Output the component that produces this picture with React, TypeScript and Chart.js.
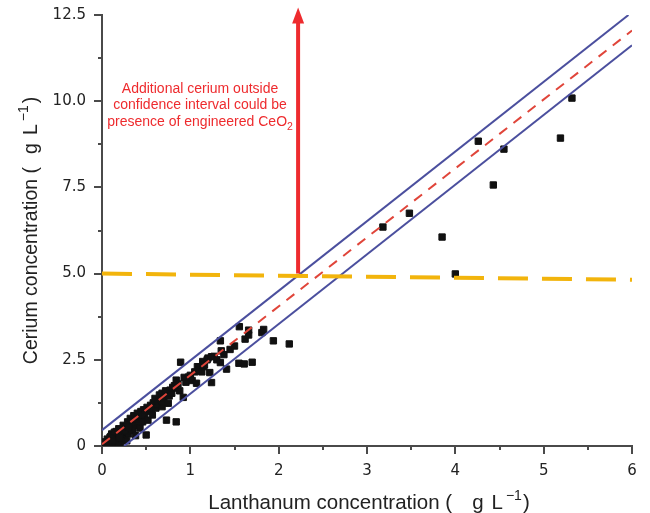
import { useEffect, useRef } from "react";
import { Chart, registerables } from "chart.js";

Chart.register(...registerables);

// Scatter samples: lanthanum (x) vs cerium (y), g/L
const laX = [
  0.02, 0.04, 0.05, 0.06, 0.08, 0.09, 0.1, 0.11, 0.12, 0.13, 0.14, 0.15, 0.16, 0.17, 0.18, 0.19,
  0.2, 0.21, 0.22, 0.23, 0.24, 0.25, 0.26, 0.27, 0.28, 0.29, 0.3, 0.31, 0.32, 0.33, 0.34, 0.35,
  0.36, 0.37, 0.38, 0.39, 0.4, 0.41, 0.42, 0.43, 0.44, 0.45, 0.46, 0.47, 0.48, 0.49, 0.5, 0.51,
  0.52, 0.53, 0.55, 0.56, 0.57, 0.58, 0.6, 0.61, 0.62, 0.64, 0.65, 0.66, 0.68, 0.68, 0.69, 0.7,
  0.72, 0.73, 0.75, 0.76, 0.77, 0.79, 0.8, 0.82, 0.83, 0.84, 0.84, 0.86, 0.88, 0.89, 0.92, 0.93,
  0.95, 0.98, 1.0, 1.02, 1.05, 1.07, 1.08, 1.1, 1.13, 1.14, 1.15, 1.16, 1.19, 1.2, 1.22, 1.24,
  1.24, 1.27, 1.3, 1.34, 1.34, 1.35, 1.38, 1.41, 1.45, 1.5, 1.55, 1.555, 1.61, 1.62, 1.66, 1.66,
  1.7, 1.81, 1.83, 1.94, 2.12, 3.18, 3.48, 3.85, 4.0, 4.26, 4.43, 4.55, 5.19, 5.32,
  0.03, 0.07, 0.1, 0.14, 0.18, 0.22, 0.26, 0.3, 0.12, 0.2, 0.28,
];
const ceY = [
  0.05, 0.12, 0.02, 0.2, 0.08, 0.25, 0.15, 0.35, 0.05, 0.22, 0.3, 0.12, 0.42, 0.28, 0.18, 0.5,
  0.35, 0.08, 0.45, 0.3, 0.6, 0.4, 0.2, 0.55, 0.48, 0.7, 0.35, 0.62, 0.8, 0.5, 0.72, 0.45,
  0.88, 0.66, 0.3, 0.78, 0.95, 0.6, 0.85, 0.52, 1.0, 0.85, 0.7, 1.05, 0.9, 1.04, 0.32, 1.12,
  0.75, 1.0, 1.18, 1.04, 0.9, 1.25, 1.38, 1.1, 1.2, 1.3, 1.48, 1.33, 1.53, 1.14, 1.28, 1.4,
  1.6, 0.75, 1.24, 1.45, 1.62, 1.53, 1.7, 1.75, 1.68, 0.7, 1.91, 1.8, 1.6, 2.43, 1.41, 1.99,
  1.85, 2.0, 2.05, 1.9, 2.15, 1.82, 2.3, 2.2, 2.15, 2.45, 2.3, 2.35, 2.5, 2.55, 2.13, 2.59,
  1.84, 2.6, 2.5, 2.42, 3.05, 2.76, 2.65, 2.23, 2.8, 2.9, 2.4, 3.46, 2.38, 3.1, 3.36, 3.22,
  2.43, 3.29, 3.38, 3.05, 2.96, 6.35, 6.75, 6.06, 4.99, 8.84, 7.57, 8.61, 8.93, 10.09,
  0.1, 0.02, 0.28, 0.4, 0.1, 0.2, 0.45, 0.55, 0.15, 0.25, 0.15,
];

// Regression line and confidence bounds
const fitX = [0, 6];
const fitY = [0.05, 12.05];
const upperX = [0, 5.96];
const upperY = [0.46, 12.5];
const lowerX = [0.25, 6];
const lowerY = [0, 11.62];

// Threshold (yellow dashed)
const thresholdX = [0, 6];
const thresholdY = [5.0, 4.82];

// Arrow (x, from, to)
const arrowX = 2.22;
const arrowFromY = 5.0;
const arrowToY = 12.72;

// Note
const noteX = 1.11;
const noteY = 10.35;
const noteLines = ["Additional cerium outside", "confidence interval could be", "presence of engineered CeO"];
const noteSubscript = "2";

// Ticks
const xMajorTicks = [0, 1, 2, 3, 4, 5, 6];
const xMinorTicks = [0.5, 1.5, 2.5, 3.5, 4.5, 5.5];
const yMajorTicks = [0, 2.5, 5.0, 7.5, 10.0, 12.5];
const yMinorTicks = [1.25, 3.75, 6.25, 8.75, 11.25];

// Axis titles: lead text, unit, unit letter, superscript exponent
const xTitleLead = "Lanthanum concentration (";
const yTitleLead = "Cerium concentration (";
const unitG = "g";
const unitL = "L";
const unitExp = "\u22121";

const pts = (xs: number[], ys: number[]) => xs.map((x, i) => ({ x, y: ys[i] }));

const AXIS_COLOR = "#4a4a4a";
const TEXT_COLOR = "#222222";
const NOTE_RED = "#ee2b2e";
const SANS = "'Liberation Sans', Arial, sans-serif";

type Piece = { text?: string; size?: number; dy?: number; gap?: number };

function drawPieces(ctx: CanvasRenderingContext2D, pieces: Piece[], cx: number, baseline: number) {
  let total = 0;
  const widths = pieces.map((p) => {
    if (p.gap !== undefined) return p.gap;
    ctx.font = `${p.size}px ${SANS}`;
    return ctx.measureText(p.text || "").width;
  });
  widths.forEach((w) => (total += w));
  let x = cx - total / 2;
  ctx.textAlign = "left";
  ctx.textBaseline = "alphabetic";
  pieces.forEach((p, i) => {
    if (p.gap === undefined) {
      ctx.font = `${p.size}px ${SANS}`;
      ctx.fillText(p.text || "", x, baseline + (p.dy || 0));
    }
    x += widths[i];
  });
}

const overlayPlugin = {
  id: "overlay",
  afterDraw(chart: any) {
    const { ctx, scales } = chart;
    const xs = scales.x;
    const ys = scales.y;
    const area = chart.chartArea;
    ctx.save();
    // tick marks
    ctx.strokeStyle = AXIS_COLOR;
    ctx.lineWidth = 2;
    const drawX = (v: number, len: number) => {
      const px = Math.round(xs.getPixelForValue(v));
      ctx.beginPath();
      ctx.moveTo(px, area.bottom);
      ctx.lineTo(px, area.bottom + len);
      ctx.stroke();
    };
    const drawY = (v: number, len: number) => {
      const py = Math.round(ys.getPixelForValue(v));
      ctx.beginPath();
      ctx.moveTo(area.left, py);
      ctx.lineTo(area.left - len, py);
      ctx.stroke();
    };
    xMajorTicks.forEach((v) => drawX(v, 8));
    xMinorTicks.forEach((v) => drawX(v, 4));
    yMajorTicks.forEach((v) => drawY(v, 8));
    yMinorTicks.forEach((v) => drawY(v, 4));

    // axis titles
    ctx.fillStyle = TEXT_COLOR;
    const xPieces: Piece[] = [
      { text: xTitleLead, size: 20.5 },
      { gap: 20 },
      { text: unitG, size: 20.5 },
      { gap: 8 },
      { text: unitL, size: 20.5 },
      { gap: 3 },
      { text: unitExp, size: 14, dy: -9 },
      { gap: 1 },
      { text: ")", size: 20.5 },
    ];
    drawPieces(ctx, xPieces, (area.left + area.right) / 2 + 2, 509);
    const yPieces: Piece[] = [
      { text: yTitleLead, size: 19.5 },
      { gap: 13 },
      { text: unitG, size: 19.5 },
      { gap: 8 },
      { text: unitL, size: 19.5 },
      { gap: 3 },
      { text: unitExp, size: 14, dy: -9 },
      { gap: 2 },
      { text: ")", size: 19.5 },
    ];
    ctx.save();
    ctx.translate(36.5, (area.top + area.bottom) / 2);
    ctx.rotate(-Math.PI / 2);
    drawPieces(ctx, yPieces, 0, 0);
    ctx.restore();

    // arrow
    const ax = xs.getPixelForValue(arrowX);
    const ay0 = ys.getPixelForValue(arrowFromY);
    const ay1 = ys.getPixelForValue(arrowToY);
    ctx.strokeStyle = NOTE_RED;
    ctx.fillStyle = NOTE_RED;
    ctx.lineWidth = 4;
    ctx.beginPath();
    ctx.moveTo(ax, ay0);
    ctx.lineTo(ax, ay1 + 12);
    ctx.stroke();
    ctx.beginPath();
    ctx.moveTo(ax, ay1);
    ctx.lineTo(ax - 6, ay1 + 16);
    ctx.lineTo(ax + 6, ay1 + 16);
    ctx.closePath();
    ctx.fill();

    // note text
    const cx = xs.getPixelForValue(noteX);
    const cy = ys.getPixelForValue(noteY);
    ctx.textBaseline = "middle";
    ctx.textAlign = "left";
    noteLines.forEach((line, i) => {
      const y = cy + i * 16.5;
      ctx.font = `14px ${SANS}`;
      const w = ctx.measureText(line).width;
      let sw = 0;
      if (i === noteLines.length - 1) {
        ctx.font = `10.5px ${SANS}`;
        sw = ctx.measureText(noteSubscript).width;
      }
      const start = cx - (w + sw) / 2;
      ctx.font = `14px ${SANS}`;
      ctx.fillText(line, start, y);
      if (sw) {
        ctx.font = `10.5px ${SANS}`;
        ctx.fillText(noteSubscript, start + w, y + 5);
      }
    });
    ctx.restore();
  },
};

export default function App() {
  const ref = useRef<HTMLCanvasElement | null>(null);
  useEffect(() => {
    if (!ref.current) return;
    const lineDs = (xs: number[], ys: number[], color: string, width: number, dash: number[], order: number) => ({
      data: pts(xs, ys),
      showLine: true,
      borderColor: color,
      borderWidth: width,
      borderDash: dash,
      pointRadius: 0,
      fill: false,
      order,
    });
    const chart = new Chart(ref.current, {
      type: "scatter",
      data: {
        datasets: [
          {
            data: pts(laX, ceY),
            pointStyle: "rect",
            pointRadius: 4.5,
            backgroundColor: "#111111",
            borderColor: "#111111",
            borderWidth: 1,
            order: 10,
          } as any,
          lineDs(upperX, upperY, "#4b4f9e", 2, [], 3),
          lineDs(lowerX, lowerY, "#4b4f9e", 2, [], 3),
          lineDs(fitX, fitY, "#e0453a", 2, [10, 8], 2),
          lineDs(thresholdX, thresholdY, "#f2b40c", 4, [30, 14], 1),
        ],
      },
      options: {
        animation: false,
        responsive: false,
        events: [],
        layout: { padding: { top: 15, right: 18, left: 0, bottom: 0 } },
        plugins: { legend: { display: false }, tooltip: { enabled: false } },
        scales: {
          x: {
            type: "linear",
            min: 0,
            max: 6,
            afterFit: (s: any) => {
              s.height = 67;
              s.paddingLeft = 0;
              s.paddingRight = 0;
            },
            grid: { display: false, drawTicks: false },
            border: { display: true, color: AXIS_COLOR, width: 2 },
            afterBuildTicks: (s: any) => {
              s.ticks = xMajorTicks.map((v) => ({ value: v }));
            },
            ticks: {
              padding: 16,
              color: TEXT_COLOR,
              font: { family: "'DejaVu Sans', sans-serif", size: 15 },
              maxRotation: 0,
              callback: (v: any) => String(v),
            },
            title: { display: false },
          },
          y: {
            type: "linear",
            min: 0,
            max: 12.5,
            afterFit: (s: any) => {
              s.width = 102;
              s.paddingTop = 0;
              s.paddingBottom = 0;
            },
            grid: { display: false, drawTicks: false },
            border: { display: true, color: AXIS_COLOR, width: 2 },
            afterBuildTicks: (s: any) => {
              s.ticks = yMajorTicks.map((v) => ({ value: v }));
            },
            ticks: {
              padding: 16,
              color: TEXT_COLOR,
              font: { family: "'DejaVu Sans', sans-serif", size: 15 },
              callback: (v: any) => (v === 0 ? "0" : Number(v).toFixed(1)),
            },
            title: { display: false },
          },
        },
      },
      plugins: [overlayPlugin],
    } as any);
    return () => chart.destroy();
  }, []);
  return (
    <div style={{ position: "absolute", left: 0, top: 0, width: 650, height: 513, background: "#fff" }}>
      <canvas ref={ref} width={650} height={513} style={{ display: "block" }} />
    </div>
  );
}
